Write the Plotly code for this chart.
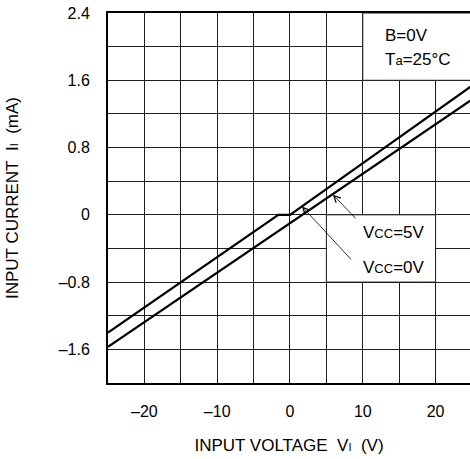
import plotly.graph_objects as go

# Data
vcc0_x = [-25, -1.6, 0, 25]
vcc0_y = [-1.40, 0.0, 0.0, 1.535]
vcc5_x = [-25, 25]
vcc5_y = [-1.57, 1.37]

x_grid = [-25, -20, -15, -10, -5, 0, 5, 10, 15, 20, 25]
x_text = ["", "–20", "", "–10", "", "0", "", "10", "", "20", ""]
y_grid = [-2.0, -1.6, -1.2, -0.8, -0.4, 0.0, 0.4, 0.8, 1.2, 1.6, 2.0, 2.4]
y_text = ["", "–1.6", "", "–0.8", "", "0", "", "0.8", "", "1.6", "", "2.4"]

FONT = "Liberation Sans, Arial, sans-serif"
GRID = "#1e1e1e"

fig = go.Figure()
fig.add_trace(go.Scatter(x=vcc0_x, y=vcc0_y, mode="lines",
                         line=dict(color="black", width=2.2), showlegend=False, hoverinfo="skip"))
fig.add_trace(go.Scatter(x=vcc5_x, y=vcc5_y, mode="lines",
                         line=dict(color="black", width=2.2), showlegend=False, hoverinfo="skip"))

# white label boxes hiding the grid
fig.add_shape(type="rect", x0=10, x1=25, y0=1.6, y1=2.4, layer="between",
              fillcolor="white", line=dict(color=GRID, width=1))
fig.add_shape(type="rect", x0=5, x1=20, y0=-0.8, y1=0.0, layer="between",
              fillcolor="white", line=dict(color=GRID, width=1))

ann_font = dict(family=FONT, size=17, color="black")
small = "font-size:13px"
fig.add_annotation(x=12.8, y=2.13, text="B=0V", showarrow=False, xanchor="left",
                   yanchor="middle", font=ann_font)
fig.add_annotation(x=12.8, y=1.85, text=f"T<span style='{small}'>a</span>=25°C", showarrow=False,
                   xanchor="left", yanchor="middle", font=ann_font)
fig.add_annotation(x=9.7, y=-0.21, text=f"V<span style='{small}'>CC</span>=5V", showarrow=False,
                   xanchor="left", yanchor="middle", font=ann_font)
fig.add_annotation(x=9.7, y=-0.63, text=f"V<span style='{small}'>CC</span>=0V", showarrow=False,
                   xanchor="left", yanchor="middle", font=ann_font)
# arrows
fig.add_annotation(x=5.9, y=0.24, ax=9.2, ay=-0.06, axref="x", ayref="y", text="",
                   showarrow=True, arrowhead=5, arrowsize=1.6, arrowwidth=0.8, arrowcolor="black")
fig.add_annotation(x=1.65, y=0.10, ax=8.6, ay=-0.55, axref="x", ayref="y", text="",
                   showarrow=True, arrowhead=5, arrowsize=1.6, arrowwidth=0.8, arrowcolor="black")

fig.update_xaxes(range=[-25, 24.73], tickvals=x_grid, ticktext=x_text,
                 showgrid=True, gridcolor=GRID, gridwidth=1, zeroline=False,
                 showline=True, linecolor="black", linewidth=2, mirror=True,
                 ticks="outside", ticklen=13, tickcolor="rgba(0,0,0,0)",
                 tickfont=dict(family=FONT, size=16, color="black"),
                 title=dict(text="INPUT VOLTAGE&nbsp;&nbsp;V<span style='font-size:11px'>I</span>&nbsp;&nbsp;(V)",
                            font=dict(family=FONT, size=17, color="black"), standoff=20))
fig.update_yaxes(range=[-2.0, 2.4], tickvals=y_grid, ticktext=y_text,
                 showgrid=True, gridcolor=GRID, gridwidth=1, zeroline=False,
                 showline=True, linecolor="black", linewidth=2, mirror=False,
                 ticks="outside", ticklen=13, tickcolor="rgba(0,0,0,0)",
                 tickfont=dict(family=FONT, size=16, color="black"),
                 title=dict(text="INPUT CURRENT&nbsp;&nbsp;I<span style='font-size:11px'>I</span>&nbsp;&nbsp;(mA)",
                            font=dict(family=FONT, size=17, color="black"), standoff=36))

fig.update_layout(width=470, height=459, margin=dict(l=108, r=0, t=13, b=76),
                  paper_bgcolor="white", plot_bgcolor="white", showlegend=False)

# remove the browser's default 8px page margin so the figure fills the window exactly
fig.write_html("out.html", config={"displayModeBar": False},
               post_script="document.body.style.margin='0';document.body.style.overflow='hidden';")
